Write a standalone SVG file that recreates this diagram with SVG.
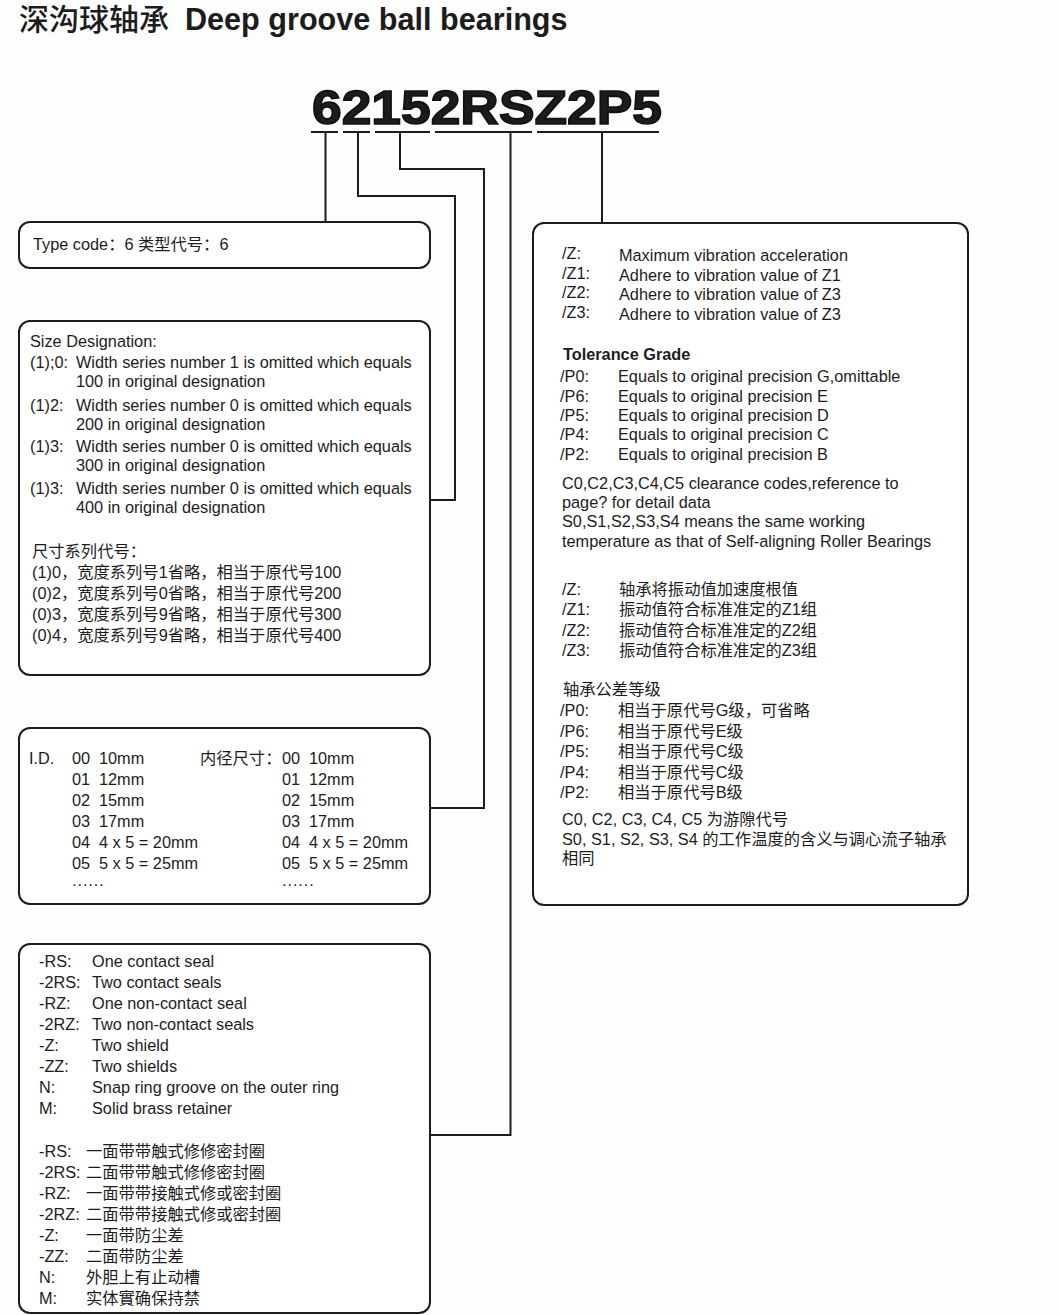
<svg xmlns="http://www.w3.org/2000/svg" width="1059" height="1315" viewBox="0 0 1059 1315">
<style>
text{font-family:"Liberation Sans","Noto Sans CJK SC",sans-serif;fill:#1c1c1c;font-size:16.3px}
.box{fill:#ffffff;stroke:#1c1c1c;stroke-width:2}
.con{fill:none;stroke:#1c1c1c;stroke-width:2}
.b{font-weight:bold}
.title{font-size:30px}
.code{font-size:48px;font-weight:bold;stroke:#111;stroke-width:1.6px}
.dots{font-size:16px;letter-spacing:1px}
</style>
<rect x="0" y="0" width="1059" height="1315" fill="#fdfdfd"/>
<g id="title">
<text x="19" y="30" class="title"><tspan style="font-weight:500">深沟球轴承</tspan><tspan class="b" x="185" style="font-size:30.6px">Deep groove ball bearings</tspan></text>
</g>
<g id="code">
<text x="312" y="124" class="code" textLength="350" lengthAdjust="spacingAndGlyphs">62152RSZ2P5</text>
</g>
<g id="connectors">
<path class="con" d="M311 132H338M343 132H370M375 132H430M435 132H532M537 132H659"/>
<path class="con" d="M325.5 132V222"/>
<path class="con" d="M358 132V196H455V500H430"/>
<path class="con" d="M400 132V169H484V808H430"/>
<path class="con" d="M510.5 132V1135H430"/>
<path class="con" d="M602 132V223"/>
</g>
<g id="type-code">
<rect class="box" x="19" y="222" width="411" height="46" rx="11"/>
<text x="33" y="250">Type code：6 类型代号：6</text>
</g>
<g id="size-designation">
<rect class="box" x="19" y="321" width="411" height="354" rx="11"/>
<text x="30" y="347">Size Designation:</text>
<text x="30" y="368">(1);0:<tspan x="76">Width series number 1 is omitted which equals</tspan></text>
<text x="76" y="387">100 in original designation</text>
<text x="30" y="411">(1)2:<tspan x="76">Width series number 0 is omitted which equals</tspan></text>
<text x="76" y="430">200 in original designation</text>
<text x="30" y="452">(1)3:<tspan x="76">Width series number 0 is omitted which equals</tspan></text>
<text x="76" y="471">300 in original designation</text>
<text x="30" y="494">(1)3:<tspan x="76">Width series number 0 is omitted which equals</tspan></text>
<text x="76" y="513">400 in original designation</text>
<text x="32" y="557">尺寸系列代号：</text>
<text x="32" y="578">(1)0，宽度系列号1省略，相当于原代号100</text>
<text x="32" y="599">(0)2，宽度系列号0省略，相当于原代号200</text>
<text x="32" y="620">(0)3，宽度系列号9省略，相当于原代号300</text>
<text x="32" y="641">(0)4，宽度系列号9省略，相当于原代号400</text>
</g>
<g id="inner-diameter">
<rect class="box" x="19" y="728" width="411" height="176" rx="11"/>
<text x="29" y="764">I.D.</text>
<text x="72" y="764">00<tspan x="99">10mm</tspan></text>
<text x="72" y="785">01<tspan x="99">12mm</tspan></text>
<text x="72" y="806">02<tspan x="99">15mm</tspan></text>
<text x="72" y="827">03<tspan x="99">17mm</tspan></text>
<text x="72" y="848">04<tspan x="99">4 x 5 = 20mm</tspan></text>
<text x="72" y="869">05<tspan x="99">5 x 5 = 25mm</tspan></text>
<text x="72" y="886" class="dots">......</text>
<text x="200" y="764">内径尺寸：</text>
<text x="282" y="764">00<tspan x="309">10mm</tspan></text>
<text x="282" y="785">01<tspan x="309">12mm</tspan></text>
<text x="282" y="806">02<tspan x="309">15mm</tspan></text>
<text x="282" y="827">03<tspan x="309">17mm</tspan></text>
<text x="282" y="848">04<tspan x="309">4 x 5 = 20mm</tspan></text>
<text x="282" y="869">05<tspan x="309">5 x 5 = 25mm</tspan></text>
<text x="282" y="886" class="dots">......</text>
</g>
<g id="seals">
<rect class="box" x="19" y="944" width="411" height="369" rx="11"/>
<text x="39" y="967">-RS:<tspan x="92">One contact seal</tspan></text>
<text x="39" y="988">-2RS:<tspan x="92">Two contact seals</tspan></text>
<text x="39" y="1009">-RZ:<tspan x="92">One non-contact seal</tspan></text>
<text x="39" y="1030">-2RZ:<tspan x="92">Two non-contact seals</tspan></text>
<text x="39" y="1051">-Z:<tspan x="92">Two shield</tspan></text>
<text x="39" y="1072">-ZZ:<tspan x="92">Two shields</tspan></text>
<text x="39" y="1093">N:<tspan x="92">Snap ring groove on the outer ring</tspan></text>
<text x="39" y="1114">M:<tspan x="92">Solid brass retainer</tspan></text>
<text x="39" y="1157">-RS:<tspan x="86">一面带带触式修修密封圈</tspan></text>
<text x="39" y="1178">-2RS:<tspan x="86">二面带带触式修修密封圈</tspan></text>
<text x="39" y="1199">-RZ:<tspan x="86">一面带带接触式修或密封圈</tspan></text>
<text x="39" y="1220">-2RZ:<tspan x="86">二面带带接触式修或密封圈</tspan></text>
<text x="39" y="1241">-Z:<tspan x="86">一面带防尘差</tspan></text>
<text x="39" y="1262">-ZZ:<tspan x="86">二面带防尘差</tspan></text>
<text x="39" y="1283">N:<tspan x="86">外胆上有止动槽</tspan></text>
<text x="39" y="1304">M:<tspan x="86">实体實确保持禁</tspan></text>
</g>
<g id="suffix">
<rect class="box" x="533" y="223" width="435" height="682" rx="11"/>
<text x="562" y="259">/Z:<tspan x="619" y="261">Maximum vibration acceleration</tspan></text>
<text x="562" y="279">/Z1:<tspan x="619" y="281">Adhere to vibration value of Z1</tspan></text>
<text x="562" y="298">/Z2:<tspan x="619" y="300">Adhere to vibration value of Z3</tspan></text>
<text x="562" y="318">/Z3:<tspan x="619" y="320">Adhere to vibration value of Z3</tspan></text>
<text x="563" y="360" class="b">Tolerance Grade</text>
<text x="560" y="382">/P0:<tspan x="618">Equals to original precision G,omittable</tspan></text>
<text x="560" y="402">/P6:<tspan x="618">Equals to original precision E</tspan></text>
<text x="560" y="421">/P5:<tspan x="618">Equals to original precision D</tspan></text>
<text x="560" y="440">/P4:<tspan x="618">Equals to original precision C</tspan></text>
<text x="560" y="460">/P2:<tspan x="618">Equals to original precision B</tspan></text>
<text x="562" y="489">C0,C2,C3,C4,C5 clearance codes,reference to</text>
<text x="562" y="508">page? for detail data</text>
<text x="562" y="527">S0,S1,S2,S3,S4 means the same working</text>
<text x="562" y="547">temperature as that of Self-aligning Roller Bearings</text>
<text x="562" y="595">/Z:<tspan x="619">轴承将振动值加速度根值</tspan></text>
<text x="562" y="615">/Z1:<tspan x="619">振动值符合标准准定的Z1组</tspan></text>
<text x="562" y="636">/Z2:<tspan x="619">振动值符合标准准定的Z2组</tspan></text>
<text x="562" y="656">/Z3:<tspan x="619">振动值符合标准准定的Z3组</tspan></text>
<text x="563" y="695">轴承公差等级</text>
<text x="560" y="716">/P0:<tspan x="618">相当于原代号G级，可省略</tspan></text>
<text x="560" y="737">/P6:<tspan x="618">相当于原代号E级</tspan></text>
<text x="560" y="757">/P5:<tspan x="618">相当于原代号C级</tspan></text>
<text x="560" y="778">/P4:<tspan x="618">相当于原代号C级</tspan></text>
<text x="560" y="798">/P2:<tspan x="618">相当于原代号B级</tspan></text>
<text x="562" y="825">C0, C2, C3, C4, C5 为游隙代号</text>
<text x="562" y="845">S0, S1, S2, S3, S4 的工作温度的含义与调心流子轴承</text>
<text x="562" y="864">相同</text>
</g>
</svg>
